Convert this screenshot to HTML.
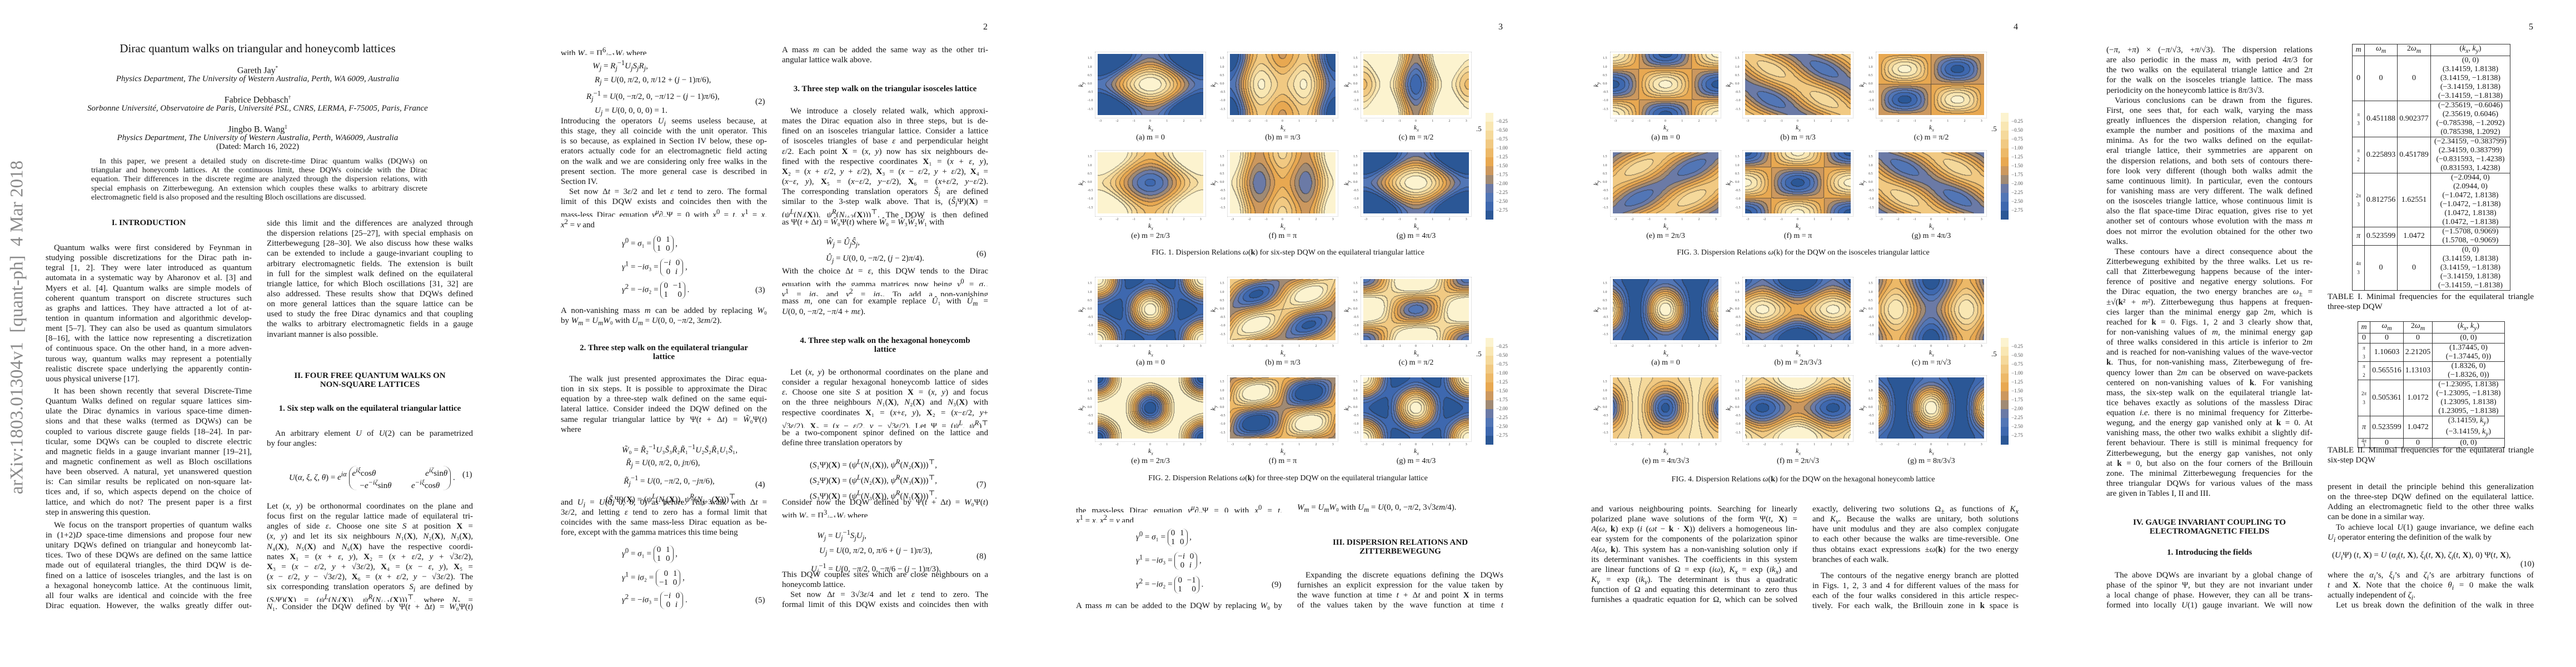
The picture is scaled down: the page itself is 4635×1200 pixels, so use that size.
<!DOCTYPE html>
<html><head><meta charset="utf-8">
<style>
body{margin:0;width:4635px;height:1200px;background:#fff;position:relative;overflow:hidden;font-family:"Liberation Serif","DejaVu Serif",serif;color:#151515}
.pg{position:absolute;top:0;width:927px;height:1200px;overflow:hidden}
.b{position:absolute;width:371px;font-size:15px;line-height:18.15px}
.b div{white-space:nowrap;text-align:justify;text-align-last:justify;height:18.15px;overflow:hidden}
.b div.e{text-align-last:left}
.b div.i{text-indent:15px}
.c{position:absolute;left:0;width:927px;text-align:center;white-space:nowrap}
.h{position:absolute;font-weight:bold;font-size:15px;white-space:nowrap;text-align:center}
.eq{position:absolute;font-size:15px;white-space:nowrap;line-height:18px}
.num{position:absolute;font-size:15px}
.pn{position:absolute;left:842px;top:40px;font-size:16px}
.mx{display:inline-flex;flex-direction:column;vertical-align:middle;line-height:16px;border-left:1.5px solid #333;border-right:1.5px solid #333;border-radius:9px;padding:0 5px;text-align:center;word-spacing:5px}
table{position:absolute;border-collapse:collapse;font-size:14px;line-height:16px}
td{border:1px solid #333;text-align:center;padding:0;vertical-align:middle}
.tick{position:absolute;font-size:6px;color:#444;white-space:nowrap}
.lab{position:absolute;font-size:12px;font-style:italic;white-space:nowrap}
.cap{position:absolute;font-size:14px;white-space:nowrap;text-align:center;width:200px}
.figcap{position:absolute;font-size:14px;white-space:nowrap;width:927px;text-align:center;left:0}
</style></head><body>

<!-- PAGE 1 -->
<div class="pg" style="left:0">
<div style="position:absolute;left:31px;top:589px;transform:translate(-50%,-50%) rotate(-90deg);font-size:33px;color:#8a8a8a;white-space:nowrap">arXiv:1803.01304v1&nbsp; [quant-ph]&nbsp; 4 Mar 2018</div>
<div class="c" style="top:75px;font-size:21px">Dirac quantum walks on triangular and honeycomb lattices</div>
<div class="c" style="top:117px;font-size:16px">Gareth Jay<sup style="font-size:9px">*</sup></div>
<div class="c" style="top:134px;font-size:15px;font-style:italic">Physics Department, The University of Western Australia, Perth, WA 6009, Australia</div>
<div class="c" style="top:170px;font-size:16px">Fabrice Debbasch<sup style="font-size:9px">†</sup></div>
<div class="c" style="top:187px;font-size:15px;font-style:italic">Sorbonne Université, Observatoire de Paris, Université PSL, CNRS, LERMA, F-75005, Paris, France</div>
<div class="c" style="top:223px;font-size:16px">Jingbo B. Wang<sup style="font-size:9px">‡</sup></div>
<div class="c" style="top:240px;font-size:15px;font-style:italic">Physics Department, The University of Western Australia, Perth, WA6009, Australia</div>
<div class="c" style="top:256px;font-size:15px">(Dated: March 16, 2022)</div>
<div class="b" style="left:164px;top:283px;width:605px;font-size:14px;line-height:16.2px">
<div class="i" style="height:16.2px">In this paper, we present a detailed study on discrete-time Dirac quantum walks (DQWs) on</div>
<div style="height:16.2px">triangular and honeycomb lattices. At the continuous limit, these DQWs coincide with the Dirac</div>
<div style="height:16.2px">equation. Their differences in the discrete regime are analyzed through the dispersion relations, with</div>
<div style="height:16.2px">special emphasis on Zitterbewegung. An extension which couples these walks to arbitrary discrete</div>
<div class="e" style="height:16.2px">electromagnetic field is also proposed and the resulting Bloch oscillations are discussed.</div>
</div>
<div class="h" style="left:82px;width:371px;top:393px">I. INTRODUCTION</div>
<div class="b" style="left:82px;top:437px">
<div class="i">Quantum walks were first considered by Feynman in</div>
<div>studying possible discretizations for the Dirac path in-</div>
<div>tegral [1, 2]. They were later introduced as quantum</div>
<div>automata in a systematic way by Aharonov et al. [3] and</div>
<div>Myers et al. [4]. Quantum walks are simple models of</div>
<div>coherent quantum transport on discrete structures such</div>
<div>as graphs and lattices. They have attracted a lot of at-</div>
<div>tention in quantum information and algorithmic develop-</div>
<div>ment [5–7]. They can also be used as quantum simulators</div>
<div>[8–16], with the lattice now representing a discretization</div>
<div>of continuous space. On the other hand, in a more adven-</div>
<div>turous way, quantum walks may represent a potentially</div>
<div>realistic discrete space underlying the apparently contin-</div>
<div class="e">uous physical universe [17].</div>
<div class="i" style="margin-top:4px">It has been shown recently that several Discrete-Time</div>
<div>Quantum Walks defined on regular square lattices sim-</div>
<div>ulate the Dirac dynamics in various space-time dimen-</div>
<div>sions and that these walks (termed as DQWs) can be</div>
<div>coupled to various discrete gauge fields [18–24]. In par-</div>
<div>ticular, some DQWs can be coupled to discrete electric</div>
<div>and magnetic fields in a gauge invariant manner [19–21],</div>
<div>and magnetic confinement as well as Bloch oscillations</div>
<div>have been observed. A natural, yet unanswered question</div>
<div>is: Can similar results be replicated on non-square lat-</div>
<div>tices and, if so, which aspects depend on the choice of</div>
<div>lattice, and which do not? The present paper is a first</div>
<div class="e">step in answering this question.</div>
<div class="i" style="margin-top:5px">We focus on the transport properties of quantum walks</div>
<div>in (1+2)<i>D</i> space-time dimensions and propose four new</div>
<div>unitary DQWs defined on triangular and honeycomb lat-</div>
<div>tices. Two of these DQWs are defined on the same lattice</div>
<div>made out of equilateral triangles, the third DQW is de-</div>
<div>fined on a lattice of isosceles triangles, and the last is on</div>
<div>a hexagonal honeycomb lattice. At the continuous limit,</div>
<div>all four walks are identical and coincide with the free</div>
<div>Dirac equation. However, the walks greatly differ out-</div>
</div>
<div class="b" style="left:480px;top:393px">
<div>side this limit and the differences are analyzed through</div>
<div>the dispersion relations [25–27], with special emphasis on</div>
<div>Zitterbewegung [28–30]. We also discuss how these walks</div>
<div>can be extended to include a gauge-invariant coupling to</div>
<div>arbitrary electromagnetic fields. The extension is built</div>
<div>in full for the simplest walk defined on the equilateral</div>
<div>triangle lattice, for which Bloch oscillations [31, 32] are</div>
<div>also addressed. These results show that DQWs defined</div>
<div>on more general lattices than the square lattice can be</div>
<div>used to study the free Dirac dynamics and that coupling</div>
<div>the walks to arbitrary electromagnetic fields in a gauge</div>
<div class="e">invariant manner is also possible.</div>
</div>
<div class="h" style="left:480px;width:371px;top:668px;line-height:16px">II. FOUR FREE QUANTUM WALKS ON<br>NON-SQUARE LATTICES</div>
<div class="h" style="left:480px;width:371px;top:727px">1. Six step walk on the equilateral triangular lattice</div>
<div class="b" style="left:480px;top:771px">
<div class="i">An arbitrary element <i>U</i> of <i>U</i>(2) can be parametrized</div>
<div class="e">by four angles:</div>
</div>
<div class="eq" style="left:520px;top:838px"><i>U</i>(<i>α, ξ, ζ, θ</i>) = <i>e<sup>iα</sup></i> <span class="mx" style="word-spacing:14px;border-radius:14px"><span><i>e<sup>iξ</sup></i>cos<i>θ</i>&nbsp;&nbsp;&nbsp;&nbsp;&nbsp;<i>e<sup>iζ</sup></i>sin<i>θ</i></span><span>−<i>e<sup>−iζ</sup></i>sin<i>θ</i>&nbsp;&nbsp;<i>e<sup>−iξ</sup></i>cos<i>θ</i></span></span> .</div>
<div class="num" style="left:832px;top:846px">(1)</div>
<div class="b" style="left:480px;top:902px">
<div>Let (<i>x, y</i>) be orthonormal coordinates on the plane and</div>
<div>focus first on the regular lattice made of equilateral tri-</div>
<div>angles of side <i>ε</i>. Choose one site <i>S</i> at position <b>X</b> =</div>
<div>(<i>x, y</i>) and let its six neighbours <i>N</i>₁(<b>X</b>), <i>N</i>₂(<b>X</b>), <i>N</i>₃(<b>X</b>),</div>
<div><i>N</i>₄(<b>X</b>), <i>N</i>₅(<b>X</b>) and <i>N</i>₆(<b>X</b>) have the respective coordi-</div>
<div>nates <b>X</b>₁ = (<i>x</i> + <i>ε, y</i>), <b>X</b>₂ = (<i>x</i> + <i>ε</i>/2<i>, y</i> + √3<i>ε</i>/2),</div>
<div><b>X</b>₃ = (<i>x</i> − <i>ε</i>/2<i>, y</i> + √3<i>ε</i>/2), <b>X</b>₄ = (<i>x</i> − <i>ε, y</i>), <b>X</b>₅ =</div>
<div>(<i>x</i> − <i>ε</i>/2<i>, y</i> − √3<i>ε</i>/2), <b>X</b>₆ = (<i>x</i> + <i>ε</i>/2<i>, y</i> − √3<i>ε</i>/2). The</div>
<div>six corresponding translation operators <i>S<sub>j</sub></i> are defined by</div>
<div>(<i>S<sub>j</sub></i>Ψ)(<b>X</b>) = (<i>ψ<sup>L</sup></i>(<i>N<sub>j</sub></i>(<b>X</b>)), <i>ψ<sup>R</sup></i>(<i>N</i><sub><i>j</i>+1</sub>(<b>X</b>)))<sup>⊤</sup>, where <i>N</i>₇ =</div>
<div><i>N</i>₁. Consider the DQW defined by Ψ(<i>t</i> + Δ<i>t</i>) = <i>W</i>₀Ψ(<i>t</i>)</div>
</div>
</div>

<!-- PAGE 2 -->
<div class="pg" style="left:927px">
<div class="pn">2</div>
<div class="b" style="left:82px;top:81px"><div class="e">with <i>W</i>₀ = Π<sup>6</sup><sub><i>j</i>=1</sub><i>W<sub>j</sub></i> where</div></div>
<div class="eq" style="left:128px;top:103px;line-height:20.5px">&nbsp;&nbsp;&nbsp;<i>W<sub>j</sub></i> = <i>R<sub>j</sub></i><sup>−1</sup><i>U<sub>j</sub>S<sub>j</sub>R<sub>j</sub></i>,<br>&nbsp;&nbsp;&nbsp;&nbsp;<i>R<sub>j</sub></i> = <i>U</i>(0, <i>π</i>/2, 0, <i>π</i>/12 + (<i>j</i> − 1)<i>π</i>/6),<br><i>R<sub>j</sub></i><sup>−1</sup> = <i>U</i>(0, −<i>π</i>/2, 0, −<i>π</i>/12 − (<i>j</i> − 1)<i>π</i>/6),<br>&nbsp;&nbsp;&nbsp;&nbsp;<i>U<sub>j</sub></i> = <i>U</i>(0, 0, 0, 0) = 1.</div>
<div class="num" style="left:432px;top:175px">(2)</div>
<div class="b" style="left:82px;top:209px">
<div>Introducing the operators <i>U<sub>j</sub></i> seems useless because, at</div>
<div>this stage, they all coincide with the unit operator. This</div>
<div>is so because, as explained in Section IV below, these op-</div>
<div>erators actually code for an electromagnetic field acting</div>
<div>on the walk and we are considering only free walks in the</div>
<div>present section. The more general case is described in</div>
<div class="e">Section IV.</div>
<div class="i">Set now Δ<i>t</i> = 3<i>ε</i>/2 and let <i>ε</i> tend to zero. The formal</div>
<div>limit of this DQW exists and coincides then with the</div>
<div>mass-less Dirac equation <i>γ<sup>μ</sup>∂<sub>μ</sub></i>Ψ = 0 with <i>x</i><sup>0</sup> = <i>t</i>, <i>x</i><sup>1</sup> = <i>x</i>,</div>
<div class="e"><i>x</i><sup>2</sup> = <i>y</i> and</div>
</div>
<div class="eq" style="left:192px;top:423px"><i>γ</i><sup>0</sup> = <i>σ</i>₁ = <span class="mx"><span>0 1</span><span>1 0</span></span> ,</div>
<div class="eq" style="left:192px;top:465px"><i>γ</i><sup>1</sup> = −<i>iσ</i>₃ = <span class="mx"><span>−<i>i</i> 0</span><span>0 <i>i</i></span></span> ,</div>
<div class="eq" style="left:192px;top:506px"><i>γ</i><sup>2</sup> = −<i>iσ</i>₂ = <span class="mx"><span>0 −1</span><span>1 &nbsp;0</span></span> .</div>
<div class="num" style="left:432px;top:514px">(3)</div>
<div class="b" style="left:82px;top:550px">
<div>A non-vanishing mass <i>m</i> can be added by replacing <i>W</i>₀</div>
<div class="e">by <i>W<sub>m</sub></i> = <i>U<sub>m</sub>W</i>₀ with <i>U<sub>m</sub></i> = <i>U</i>(0, 0, −<i>π</i>/2, 3<i>εm</i>/2).</div>
</div>
<div class="h" style="left:82px;width:371px;top:618px;line-height:16px">2. Three step walk on the equilateral triangular<br>lattice</div>
<div class="b" style="left:82px;top:673px">
<div class="i">The walk just presented approximates the Dirac equa-</div>
<div>tion in six steps. It is possible to approximate the Dirac</div>
<div>equation by a three-step walk defined on the same equi-</div>
<div>lateral lattice. Consider indeed the DQW defined on the</div>
<div>same regular triangular lattice by Ψ(<i>t</i> + Δ<i>t</i>) = <i>W̃</i>₀Ψ(<i>t</i>)</div>
<div class="e">where</div>
</div>
<div class="eq" style="left:150px;top:793px;line-height:23px;text-align:right;width:250px"><i>W̃</i>₀ = <i>R̃</i>₂<sup>−1</sup><i>U</i>₃<i>S̃</i>₃<i>R̃</i>₂<i>R̃</i>₁<sup>−1</sup><i>U</i>₂<i>S̃</i>₂<i>R̃</i>₁<i>U</i>₁<i>S̃</i>₁,<br><i>R̃<sub>j</sub></i> = <i>U</i>(0, <i>π</i>/2, 0, <i>jπ</i>/6),&nbsp;&nbsp;&nbsp;&nbsp;&nbsp;&nbsp;&nbsp;&nbsp;&nbsp;&nbsp;&nbsp;&nbsp;&nbsp;&nbsp;&nbsp;&nbsp;&nbsp;&nbsp;<br><i>R̃<sub>j</sub></i><sup>−1</sup> = <i>U</i>(0, −<i>π</i>/2, 0, −<i>jπ</i>/6),&nbsp;&nbsp;&nbsp;&nbsp;&nbsp;&nbsp;&nbsp;&nbsp;&nbsp;&nbsp;&nbsp;<br>(<i>S̃<sub>j</sub></i>Ψ)(<b>X</b>) = (<i>ψ<sup>L</sup></i>(<i>N<sub>j</sub></i>(<b>X</b>)), <i>ψ<sup>R</sup></i>(<i>N</i><sub><i>j</i>+3</sub>(<b>X</b>)))<sup>⊤</sup>,</div>
<div class="num" style="left:432px;top:864px">(4)</div>
<div class="b" style="left:82px;top:895px">
<div>and <i>U<sub>j</sub></i> = <i>U</i>(0, 0, 0, 0) as before. This walk with Δ<i>t</i> =</div>
<div>3<i>ε</i>/2, and letting <i>ε</i> tend to zero has a formal limit that</div>
<div>coincides with the same mass-less Dirac equation as be-</div>
<div class="e">fore, except with the gamma matrices this time being</div>
</div>
<div class="eq" style="left:192px;top:981px"><i>γ</i><sup>0</sup> = <i>σ</i>₁ = <span class="mx"><span>0 1</span><span>1 0</span></span> ,</div>
<div class="eq" style="left:192px;top:1024px"><i>γ</i><sup>1</sup> = <i>iσ</i>₂ = <span class="mx"><span>&nbsp;0 1</span><span>−1 0</span></span> ,</div>
<div class="eq" style="left:192px;top:1064px"><i>γ</i><sup>2</sup> = −<i>iσ</i>₃ = <span class="mx"><span>−<i>i</i> 0</span><span>0 <i>i</i></span></span> .</div>
<div class="num" style="left:432px;top:1072px">(5)</div>

<div class="b" style="left:480px;top:81px">
<div>A mass <i>m</i> can be added the same way as the other tri-</div>
<div class="e">angular lattice walk above.</div>
</div>
<div class="h" style="left:480px;width:371px;top:152px">3. Three step walk on the triangular isosceles lattice</div>
<div class="b" style="left:480px;top:191px">
<div class="i">We introduce a closely related walk, which approxi-</div>
<div>mates the Dirac equation also in three steps, but is de-</div>
<div>fined on an isosceles triangular lattice. Consider a lattice</div>
<div>of isosceles triangles of base <i>ε</i> and perpendicular height</div>
<div><i>ε</i>/2. Each point <b>X</b> = (<i>x, y</i>) now has six neighbours de-</div>
<div>fined with the respective coordinates <b>X</b>₁ = (<i>x</i> + <i>ε, y</i>),</div>
<div><b>X</b>₂ = (<i>x</i> + <i>ε</i>/2<i>, y</i> + <i>ε</i>/2), <b>X</b>₃ = (<i>x</i> − <i>ε</i>/2<i>, y</i> + <i>ε</i>/2), <b>X</b>₄ =</div>
<div>(<i>x</i>−<i>ε, y</i>), <b>X</b>₅ = (<i>x</i>−<i>ε</i>/2<i>, y</i>−<i>ε</i>/2), <b>X</b>₆ = (<i>x</i>+<i>ε</i>/2<i>, y</i>−<i>ε</i>/2).</div>
<div>The corresponding translation operators <i>Ŝ<sub>i</sub></i> are defined</div>
<div>similar to the 3-step walk above. That is, (<i>Ŝ<sub>j</sub></i>Ψ)(<b>X</b>) =</div>
<div>(<i>ψ<sup>L</sup></i>(<i>N<sub>j</sub></i>(<b>X</b>)), <i>ψ<sup>R</sup></i>(<i>N</i><sub><i>j</i>+3</sub>(<b>X</b>)))<sup>⊤</sup>. The DQW is then defined</div>
<div class="e">as Ψ(<i>t</i> + Δ<i>t</i>) = <i>Ŵ</i>₀Ψ(<i>t</i>) where <i>Ŵ</i>₀ = <i>Ŵ</i>₃<i>Ŵ</i>₂<i>Ŵ</i>₁ with</div>
</div>
<div class="eq" style="left:559px;top:424px;line-height:25px"><i>Ŵ<sub>j</sub></i> = <i>Û<sub>j</sub>Ŝ<sub>j</sub></i>,<br><i>Û<sub>j</sub></i> = <i>U</i>(0, 0, −<i>π</i>/2, (<i>j</i> − 2)<i>π</i>/4).</div>
<div class="num" style="left:830px;top:449px">(6)</div>
<div class="b" style="left:480px;top:479px">
<div>With the choice Δ<i>t</i> = <i>ε</i>, this DQW tends to the Dirac</div>
<div>equation with the gamma matrices now being <i>γ</i><sup>0</sup> = <i>σ</i>₁,</div>
<div><i>γ</i><sup>1</sup> = <i>iσ</i>₂ and <i>γ</i><sup>2</sup> = <i>iσ</i>₃. To add a non-vanishing</div>
<div>mass <i>m</i>, one can for example replace <i>Û</i>₁ with <i>Û<sub>m</sub></i> =</div>
<div class="e"><i>U</i>(0, 0, −<i>π</i>/2, −<i>π</i>/4 + <i>mε</i>).</div>
</div>
<div class="h" style="left:480px;width:371px;top:605px;line-height:16px">4. Three step walk on the hexagonal honeycomb<br>lattice</div>
<div class="b" style="left:480px;top:661px">
<div class="i">Let (<i>x, y</i>) be orthonormal coordinates on the plane and</div>
<div>consider a regular hexagonal honeycomb lattice of sides</div>
<div><i>ε</i>. Choose one site <i>S</i> at position <b>X</b> = (<i>x, y</i>) and focus</div>
<div>on the three neighbours <i>N</i>₁(<b>X</b>), <i>N</i>₂(<b>X</b>) and <i>N</i>₃(<b>X</b>) with</div>
<div>respective coordinates <b>X</b>₁ = (<i>x</i>+<i>ε, y</i>), <b>X</b>₂ = (<i>x</i>−<i>ε</i>/2<i>, y</i>+</div>
<div>√3<i>ε</i>/2), <b>X</b>₃ = (<i>x</i> − <i>ε</i>/2<i>, y</i> − √3<i>ε</i>/2). Let Ψ = (<i>ψ<sup>L</sup>, ψ<sup>R</sup></i>)<sup>⊤</sup></div>
<div>be a two-component spinor defined on the lattice and</div>
<div class="e">define three translation operators by</div>
</div>
<div class="eq" style="left:530px;top:820px;line-height:22px">(<i>S</i>₁Ψ)(<b>X</b>) = (<i>ψ<sup>L</sup></i>(<i>N</i>₁(<b>X</b>)), <i>ψ<sup>R</sup></i>(<i>N</i>₂(<b>X</b>)))<sup>⊤</sup>,<br>(<i>S</i>₂Ψ)(<b>X</b>) = (<i>ψ<sup>L</sup></i>(<i>N</i>₂(<b>X</b>)), <i>ψ<sup>R</sup></i>(<i>N</i>₃(<b>X</b>)))<sup>⊤</sup>,<br>(<i>S</i>₃Ψ)(<b>X</b>) = (<i>ψ<sup>L</sup></i>(<i>N</i>₃(<b>X</b>)), <i>ψ<sup>R</sup></i>(<i>N</i>₁(<b>X</b>)))<sup>⊤</sup>.</div>
<div class="num" style="left:830px;top:864px">(7)</div>
<div class="b" style="left:480px;top:895px">
<div>Consider now the DQW defined by Ψ(<i>t</i> + Δ<i>t</i>) = <i>W</i>₀Ψ(<i>t</i>)</div>
<div class="e">with <i>W</i>₀ = Π<sup>3</sup><sub><i>j</i>=1</sub><i>W<sub>j</sub></i> where</div>
</div>
<div class="eq" style="left:532px;top:947px;line-height:23px">&nbsp;&nbsp;&nbsp;<i>W<sub>j</sub></i> = <i>U<sub>j</sub></i><sup>−1</sup><i>S<sub>j</sub>U<sub>j</sub></i>,<br>&nbsp;&nbsp;&nbsp;&nbsp;<i>U<sub>j</sub></i> = <i>U</i>(0, <i>π</i>/2, 0, <i>π</i>/6 + (<i>j</i> − 1)<i>π</i>/3),<br><i>U<sub>j</sub></i><sup>−1</sup> = <i>U</i>(0, −<i>π</i>/2, 0, −<i>π</i>/6 − (<i>j</i> − 1)<i>π</i>/3).</div>
<div class="num" style="left:830px;top:993px">(8)</div>
<div class="b" style="left:480px;top:1025px">
<div>This DQW couples sites which are close neighbours on a</div>
<div class="e">honeycomb lattice.</div>
<div class="i">Set now Δ<i>t</i> = 3√3<i>ε</i>/4 and let <i>ε</i> tend to zero. The</div>
<div>formal limit of this DQW exists and coincides then with</div>
</div>
</div>

<!-- PAGE 3 -->
<div class="pg" style="left:1854px">
<div class="pn">3</div>
<div class="figcap" style="top:447px">FIG. 1. Dispersion Relations <i>ω</i>(<b>k</b>) for six-step DQW on the equilateral triangular lattice</div>
<div class="figcap" style="top:853px">FIG. 2. Dispersion Relations <i>ω</i>(<b>k</b>) for three-step DQW on the equilateral triangular lattice</div>
<div class="b" style="left:82px;top:904px">
<div>the mass-less Dirac equation <i>γ<sup>μ</sup>∂<sub>μ</sub></i>Ψ = 0 with <i>x</i><sup>0</sup> = <i>t</i>,</div>
<div class="e"><i>x</i><sup>1</sup> = <i>x</i>, <i>x</i><sup>2</sup> = <i>y</i> and</div>
</div>
<div class="eq" style="left:190px;top:951px"><i>γ</i><sup>0</sup> = <i>σ</i>₁ = <span class="mx"><span>0 1</span><span>1 0</span></span> ,</div>
<div class="eq" style="left:190px;top:993px"><i>γ</i><sup>1</sup> = −<i>iσ</i>₃ = <span class="mx"><span>−<i>i</i> 0</span><span>0 <i>i</i></span></span> ,</div>
<div class="eq" style="left:190px;top:1036px"><i>γ</i><sup>2</sup> = −<i>iσ</i>₂ = <span class="mx"><span>0 −1</span><span>1 &nbsp;0</span></span> .</div>
<div class="num" style="left:434px;top:1044px">(9)</div>
<div class="b" style="left:82px;top:1081px"><div>A mass <i>m</i> can be added to the DQW by replacing <i>W</i>₀ by</div></div>
<div class="b" style="left:480px;top:904px"><div class="e"><i>W<sub>m</sub></i> = <i>U<sub>m</sub>W</i>₀ with <i>U<sub>m</sub></i> = <i>U</i>(0, 0, −<i>π</i>/2, 3√3<i>εm</i>/4).</div></div>
<div class="h" style="left:480px;width:371px;top:968px;line-height:16px">III. DISPERSION RELATIONS AND<br>ZITTERBEWEGUNG</div>
<div class="b" style="left:480px;top:1026px">
<div class="i">Expanding the discrete equations defining the DQWs</div>
<div>furnishes an explicit expression for the value taken by</div>
<div>the wave function at time <i>t</i> + Δ<i>t</i> and point <b>X</b> in terms</div>
<div>of the values taken by the wave function at time <i>t</i></div>
</div>
</div>

<!-- PAGE 4 -->
<div class="pg" style="left:2781px">
<div class="pn">4</div>
<div class="figcap" style="top:447px">FIG. 3. Dispersion Relations <i>ω</i>(k) for the DQW on the isosceles triangular lattice</div>
<div class="figcap" style="top:855px">FIG. 4. Dispersion Relations <i>ω</i>(<b>k</b>) for the DQW on the hexagonal honeycomb lattice</div>
<div class="b" style="left:82px;top:907px">
<div>and various neighbouring points. Searching for linearly</div>
<div>polarized plane wave solutions of the form Ψ(<i>t</i>, <b>X</b>) =</div>
<div><i>A</i>(<i>ω</i>, <b>k</b>) exp (<i>i</i> (<i>ωt</i> − <b>k</b> · <b>X</b>)) delivers a homogeneous lin-</div>
<div>ear system for the components of the polarization spinor</div>
<div><i>A</i>(<i>ω</i>, <b>k</b>). This system has a non-vanishing solution only if</div>
<div>its determinant vanishes. The coefficients in this system</div>
<div>are linear functions of Ω = exp (<i>iω</i>), <i>K<sub>x</sub></i> = exp (<i>ik<sub>x</sub></i>) and</div>
<div><i>K<sub>y</sub></i> = exp (<i>ik<sub>y</sub></i>). The determinant is thus a quadratic</div>
<div>function of Ω and equating this determinant to zero thus</div>
<div>furnishes a quadratic equation for Ω, which can be solved</div>
</div>
<div class="b" style="left:480px;top:907px">
<div>exactly, delivering two solutions Ω<sub>±</sub> as functions of <i>K<sub>x</sub></i></div>
<div>and <i>K<sub>y</sub></i>. Because the walks are unitary, both solutions</div>
<div>have unit modulus and they are also complex conjugate</div>
<div>to each other because the walks are time-reversible. One</div>
<div>thus obtains exact expressions ±<i>ω</i>(<b>k</b>) for the two energy</div>
<div class="e">branches of each walk.</div>
<div class="i" style="margin-top:11px">The contours of the negative energy branch are plotted</div>
<div>in Figs. 1, 2, 3 and 4 for different values of the mass for</div>
<div>each of the four walks considered in this article respec-</div>
<div>tively. For each walk, the Brillouin zone in <b>k</b> space is</div>
</div>
</div>

<!-- PAGE 5 -->
<div class="pg" style="left:3708px">
<div class="pn">5</div>
<div class="b" style="left:82px;top:81px">
<div>(−<i>π</i>, +<i>π</i>) × (−<i>π</i>/√3, +<i>π</i>/√3). The dispersion relations</div>
<div>are also periodic in the mass <i>m</i>, with period 4<i>π</i>/3 for</div>
<div>the two walks on the equilateral triangle lattice and 2<i>π</i></div>
<div>for the walk on the isosceles triangle lattice. The mass</div>
<div class="e">periodicity on the honeycomb lattice is 8<i>π</i>/3√3.</div>
<div class="i">Various conclusions can be drawn from the figures.</div>
<div>First, one sees that, for each walk, varying the mass</div>
<div>greatly influences the dispersion relation, changing for</div>
<div>example the number and positions of the maxima and</div>
<div>minima. As for the two walks defined on the equilat-</div>
<div>eral triangle lattice, their symmetries are apparent on</div>
<div>the dispersion relations, and both sets of contours there-</div>
<div>fore look very different (though both walks admit the</div>
<div>same continuous limit). In particular, even the contours</div>
<div>for vanishing mass are very different. The walk defined</div>
<div>on the isosceles triangle lattice, whose continuous limit is</div>
<div>also the flat space-time Dirac equation, gives rise to yet</div>
<div>another set of contours whose evolution with the mass <i>m</i></div>
<div>does not mirror the evolution obtained for the other two</div>
<div class="e">walks.</div>
<div class="i">These contours have a direct consequence about the</div>
<div>Zitterbewegung exhibited by the three walks. Let us re-</div>
<div>call that Zitterbewegung happens because of the inter-</div>
<div>ference of positive and negative energy solutions. For</div>
<div>the Dirac equation, the two energy branches are <i>ω</i><sub>±</sub> =</div>
<div>±√(<b>k</b>² + <i>m</i>²). Zitterbewegung thus happens at frequen-</div>
<div>cies larger than the minimal energy gap 2<i>m</i>, which is</div>
<div>reached for <b>k</b> = 0. Figs. 1, 2 and 3 clearly show that,</div>
<div>for non-vanishing values of <i>m</i>, the minimal energy gap</div>
<div>of three walks considered in this article is inferior to 2<i>m</i></div>
<div>and is reached for non-vanishing values of the wave-vector</div>
<div><b>k</b>. Thus, for non-vanishing mass, Ziterbewegung of fre-</div>
<div>quency lower than 2<i>m</i> can be observed on wave-packets</div>
<div>centered on non-vanishing values of <b>k</b>. For vanishing</div>
<div>mass, the six-step walk on the equilateral triangle lat-</div>
<div>tice behaves exactly as solutions of the massless Dirac</div>
<div>equation <i>i.e.</i> there is no minimal frequency for Zitterbe-</div>
<div>wegung, and the energy gap vanished only at <b>k</b> = 0. At</div>
<div>vanishing mass, the other two walks exhibit a slightly dif-</div>
<div>ferent behaviour. There is still is minimal frequency for</div>
<div>Zitterbewegung, but the energy gap vanishes, not only</div>
<div>at <b>k</b> = 0, but also on the four corners of the Brillouin</div>
<div>zone. The minimal Zitterbewegung frequencies for the</div>
<div>three triangular DQWs for various values of the mass</div>
<div class="e">are given in Tables I, II and III.</div>
</div>
<div class="h" style="left:82px;width:371px;top:932px;line-height:16px">IV. GAUGE INVARIANT COUPLING TO<br>ELECTROMAGNETIC FIELDS</div>
<div class="h" style="left:82px;width:371px;top:986px">1. Introducing the fields</div>
<div class="b" style="left:82px;top:1026px">
<div class="i">The above DQWs are invariant by a global change of</div>
<div>phase of the spinor Ψ, but they are not invariant under</div>
<div>a local change of phase. However, they can all be trans-</div>
<div>formed into locally <i>U</i>(1) gauge invariant. We will now</div>
</div>

<table style="left:524px;top:79px">
<tr style="height:17px"><td style="width:21px"><i>m</i></td><td style="width:58px"><i>ω<sub>m</sub></i></td><td style="width:59px">2<i>ω<sub>m</sub></i></td><td style="width:142px">(<i>k<sub>x</sub>, k<sub>y</sub></i>)</td></tr>
<tr style="height:80px"><td>0</td><td>0</td><td>0</td><td>(0, 0)<br>(3.14159, 1.8138)<br>(3.14159, −1.8138)<br>(−3.14159, 1.8138)<br>(−3.14159, −1.8138)</td></tr>
<tr style="height:64px"><td style="font-size:9px"><i>π</i><br>3</td><td>0.451188</td><td>0.902377</td><td>(−2.35619, −0.6046)<br>(2.35619, 0.6046)<br>(−0.785398, −1.2092)<br>(0.785398, 1.2092)</td></tr>
<tr style="height:64px"><td style="font-size:9px"><i>π</i><br>2</td><td>0.225893</td><td>0.451789</td><td>(−2.34159, −0.383799)<br>(2.34159, 0.383799)<br>(−0.831593, −1.4238)<br>(0.831593, 1.4238)</td></tr>
<tr style="height:96px"><td style="font-size:9px">2<i>π</i><br>3</td><td>0.812756</td><td>1.62551</td><td>(−2.0944, 0)<br>(2.0944, 0)<br>(−1.0472, 1.8138)<br>(−1.0472, −1.8138)<br>(1.0472, 1.8138)<br>(1.0472, −1.8138)</td></tr>
<tr style="height:32px"><td><i>π</i></td><td>0.523599</td><td>1.0472</td><td>(−1.5708, 0.9069)<br>(1.5708, −0.9069)</td></tr>
<tr style="height:79px"><td style="font-size:9px">4<i>π</i><br>3</td><td>0</td><td>0</td><td>(0, 0)<br>(3.14159, 1.8138)<br>(3.14159, −1.8138)<br>(−3.14159, 1.8138)<br>(−3.14159, −1.8138)</td></tr>
</table>
<div class="b" style="left:480px;top:525px">
<div>TABLE I. Minimal frequencies for the equilateral triangle</div>
<div class="e">three-step DQW</div>
</div>
<table style="left:534px;top:578px">
<tr style="height:15px"><td style="width:21px"><i>m</i></td><td style="width:59px"><i>ω<sub>m</sub></i></td><td style="width:51px">2<i>ω<sub>m</sub></i></td><td style="width:129px">(<i>k<sub>x</sub>, k<sub>y</sub></i>)</td></tr>
<tr style="height:18px"><td>0</td><td>0</td><td>0</td><td>(0, 0)</td></tr>
<tr style="height:31px"><td style="font-size:9px"><i>π</i><br>3</td><td>1.10603</td><td>2.21205</td><td>(1.37445, 0)<br>(−1.37445, 0))</td></tr>
<tr style="height:33px"><td style="font-size:9px"><i>π</i><br>2</td><td>0.565516</td><td>1.13103</td><td>(1.8326, 0)<br>(−1.8326, 0))</td></tr>
<tr style="height:64px"><td style="font-size:9px">2<i>π</i><br>3</td><td>0.505361</td><td>1.0172</td><td>(−1.23095, 1.8138)<br>(−1.23095, −1.8138)<br>(1.23095, 1.8138)<br>(1.23095, −1.8138)</td></tr>
<tr style="height:32px"><td><i>π</i></td><td>0.523599</td><td>1.0472</td><td>(3.14159, <i>k<sub>y</sub></i>)<br>(−3.14159, <i>k<sub>y</sub></i>)</td></tr>
<tr style="height:17px"><td style="font-size:9px;line-height:8px">4<i>π</i><br>3</td><td>0</td><td>0</td><td>(0, 0)</td></tr>
</table>
<div class="b" style="left:480px;top:801px">
<div>TABLE II. Minimal frequencies for the equilateral triangle</div>
<div class="e">six-step DQW</div>
</div>
<div class="b" style="left:480px;top:867px">
<div>present in detail the principle behind this generalization</div>
<div>on the three-step DQW defined on the equilateral lattice.</div>
<div>Adding an electromagnetic field to the other three walks</div>
<div class="e">can be done in a similar way.</div>
<div class="i">To achieve local <i>U</i>(1) gauge invariance, we define each</div>
<div class="e"><i>U<sub>i</sub></i> operator entering the definition of the walk by</div>
</div>
<div class="eq" style="left:488px;top:990px">(<i>U<sub>i</sub></i>Ψ) (<i>t</i>, <b>X</b>) = <i>U</i> (<i>α<sub>i</sub></i>(<i>t</i>, <b>X</b>), <i>ξ<sub>i</sub></i>(<i>t</i>, <b>X</b>), <i>ζ<sub>i</sub></i>(<i>t</i>, <b>X</b>), 0) Ψ(<i>t</i>, <b>X</b>),</div>
<div class="num" style="left:827px;top:1007px">(10)</div>
<div class="b" style="left:480px;top:1026px">
<div>where the <i>α<sub>i</sub></i>’s, <i>ξ<sub>i</sub></i>’s and <i>ζ<sub>i</sub></i>’s are arbitrary functions of</div>
<div><i>t</i> and <b>X</b>. Note that the choice <i>θ<sub>i</sub></i> = 0 make the walk</div>
<div class="e">actually independent of <i>ζ<sub>i</sub></i>.</div>
<div class="i">Let us break down the definition of the walk in three</div>
</div>
</div>

<script>
// ---- chart data ----
const xTicks = [-3, -2, -1, 0, 1, 2, 3];
const yTicks = [1.5, 1.0, 0.5, 0.0, -0.5, -1.0, -1.5];
const colorbarLabels = ['−0.25','−0.50','−0.75','−1.00','−1.25','−1.50','−1.75','−2.00','−2.25','−2.50','−2.75'];
const levelColors = ['#2b5796','#3e68af','#5276b6','#6b7aa6','#a08a74','#cc985e','#e8a851','#edb968','#f1c982','#f5d99b','#f9e7b3','#fcf3cf'];
const panelLetters = ['a','b','c','e','f','g'];
const fig1Captions = ['(a) m = 0','(b) m = π/3','(c) m = π/2','(e) m = 2π/3','(f) m = π','(g) m = 4π/3'];
const fig2Captions = ['(a) m = 0','(b) m = π/3','(c) m = π/2','(e) m = 2π/3','(f) m = π','(g) m = 4π/3'];
const fig3Captions = ['(a) m = 0','(b) m = π/3','(c) m = π/2','(e) m = 2π/3','(f) m = π','(g) m = 4π/3'];
const fig4Captions = ['(a) m = 0','(b) m = 2π/3√3','(c) m = π/√3','(e) m = 4π/3√3','(f) m = 2π/√3','(g) m = 8π/3√3'];
// per-panel field coefficients (normalized level of -ω)
const fig1Coef = [[0.25,0.4,0,0.35],[0.55,0.275,-0.22,0.12],[0.80,-0.275,-0.279,-0.15],[0.75,-0.35,0,-0.25],[0.62,-0.175,0.229,-0.1],[0.25,0.4,0,0.35]];
const fig2Coef = [[0.33,0.22,0,0],[0.55,0,0.35,-0.15],[0.75,0,-0.3,-0.25],[0.75,-0.25,0,0],[0.5,0,-0.35,0.25],[0.33,0.22,0,0]];
const fig3Coef = [[0.5,0.45,0],[0.5,0.2,-0.3],[0.5,0,-0.45],[0.5,-0.2,-0.3],[0.5,-0.45,0],[0.5,-0.2,0.3]];
const fig4Coef = [[0.3,0.3,0.2,0.2,1.75],[0.4,-0.2,0.35,0,1.5],[0.45,-0.3,0.15,0,1.5],[0.61,-0.24,-0.16,-0.16,1.75],[0.6,0.2,-0.35,0,1.5],[0.3,0.3,0.2,0.2,1.75]];

const KY = 1.81, KS = Math.PI / KY, R3 = Math.sqrt(3);
function model1(c, kx, ky){ const w = ky*KS; return c[0]+c[1]*Math.cos(kx)+c[2]*Math.cos(2*kx)+c[3]*Math.cos(w); }
function model2(c, kx, ky){ const p1 = kx-R3*ky, p2 = kx+R3*ky; const T = Math.cos(2*kx)+Math.cos(p1)+Math.cos(p2); return c[0]+c[1]*T+c[2]*Math.cos(p1)+c[3]*Math.cos(p2); }
function model3(c, kx, ky){ const w = ky*KS; return c[0]+c[1]*Math.cos(kx)*Math.cos(w)+c[2]*Math.sin(kx)*Math.sin(w); }
function model4(c, kx, ky){ const w = ky*KS, cu = Math.cos(c[4]*kx), cw = Math.cos(w); return c[0]+c[1]*cu+c[2]*cw+c[3]*cu*cw; }

const PW = 190, PH = 110;
const colX = [121, 359, 599];
function xScale(kx){ return (kx + Math.PI) / (2*Math.PI) * PW; }
function yScale(ky){ return (KY - ky) / (2*KY) * PH; }
function hex(h){ return [parseInt(h.slice(1,3),16),parseInt(h.slice(3,5),16),parseInt(h.slice(5,7),16)]; }
const rgbLevels = levelColors.map(hex);

function drawPanel(page, left, top, model, coef, caption){
  const frame = document.createElement('div');
  
  
  frame.style.cssText = 'position:absolute;left:'+(left-5)+'px;top:'+(top-4)+'px;width:'+(PW+8)+'px;height:'+(PH+8)+'px;border:1px dotted #c8c8c8';
  page.appendChild(frame);
  const cv = document.createElement('canvas');
  
  
  cv.width = PW; cv.height = PH;
  cv.style.cssText = 'position:absolute;left:'+left+'px;top:'+top+'px;width:'+PW+'px;height:'+PH+'px';
  page.appendChild(cv);
  const ctx = cv.getContext('2d');
  const img = ctx.createImageData(PW, PH);
  const lv = new Int16Array(PW*PH);
  for (let py=0; py<PH; py++) for (let px=0; px<PW; px++){
    const kx = (px+0.5)/PW*2*Math.PI - Math.PI;
    const ky = KY - (py+0.5)/PH*2*KY;
    let v = model(coef, kx, ky);
    let l = Math.floor(v*12); if (l<0) l=0; if (l>11) l=11;
    lv[py*PW+px] = l;
  }
  for (let py=0; py<PH; py++) for (let px=0; px<PW; px++){
    const i = py*PW+px, l = lv[i];
    let c = rgbLevels[l];
    const edge = (px<PW-1 && lv[i+1]!==l) || (py<PH-1 && lv[i+PW]!==l);
    if (edge) c = [c[0]*0.35+25, c[1]*0.35+25, c[2]*0.35+25];
    img.data[i*4]=c[0]; img.data[i*4+1]=c[1]; img.data[i*4+2]=c[2]; img.data[i*4+3]=255;
  }
  ctx.putImageData(img, 0, 0);
  yTicks.forEach(t => {
    const el = document.createElement('div');
    
    
    el.className = 'tick';
    el.textContent = t.toFixed(1);
    el.style.left = (left-18)+'px'; el.style.top = (top + yScale(t) - 4)+'px';
    page.appendChild(el);
  });
  xTicks.forEach(t => {
    const el = document.createElement('div');
    
    
    el.className = 'tick';
    el.textContent = t;
    el.style.left = (left + xScale(t) - 2)+'px'; el.style.top = (top + PH + 8)+'px';
    page.appendChild(el);
  });
  const ky = document.createElement('div');
  
  
  ky.className = 'lab';
  ky.innerHTML = 'k<sub style="font-size:8px">y</sub>';
  ky.style.left = (left-34)+'px'; ky.style.top = (top+PH/2-8)+'px'; ky.style.transform = 'rotate(-90deg)';
  page.appendChild(ky);
  const kx = document.createElement('div');
  
  
  kx.className = 'lab';
  kx.innerHTML = 'k<sub style="font-size:8px">x</sub>';
  kx.style.left = (left+PW/2-4)+'px'; kx.style.top = (top+PH+15)+'px';
  page.appendChild(kx);
  const cap = document.createElement('div');
  
  
  cap.className = 'cap';
  cap.textContent = caption;
  cap.style.left = (left+PW/2-100)+'px'; cap.style.top = (top+PH+33)+'px';
  page.appendChild(cap);
}

function drawColorbar(page, top){
  const n = levelColors.length, bh = 16;
  for (let i=0; i<n; i++){
    const band = document.createElement('div');
    
    
    band.style.cssText = 'position:absolute;left:819px;width:14px;height:'+bh+'px;top:'+(top+i*bh)+'px;background:'+levelColors[n-1-i];
    page.appendChild(band);
  }
  colorbarLabels.forEach((t, i) => {
    const el = document.createElement('div');
    
    
    el.style.cssText = 'position:absolute;left:838px;font-size:9px;color:#555;top:'+(top+(i+1)*bh-6)+'px';
    el.textContent = t;
    page.appendChild(el);
  });
  const dot = document.createElement('div');
  
  
  dot.style.cssText = 'position:absolute;left:802px;font-size:13px;top:'+(top+21)+'px';
  dot.textContent = '.5';
  page.appendChild(dot);
}

function drawFigure(page, top, model, coefs, captions, cbTop){
  for (let i=0; i<6; i++){
    drawPanel(page, colX[i%3], top + Math.floor(i/3)*177, model, coefs[i], captions[i]);
  }
  drawColorbar(page, cbTop);
}

const pages = document.querySelectorAll('.pg');
drawFigure(pages[2], 97, model1, fig1Coef, fig1Captions, 203);
drawFigure(pages[2], 502, model2, fig2Coef, fig2Captions, 608);
drawFigure(pages[3], 97, model3, fig3Coef, fig3Captions, 203);
drawFigure(pages[3], 502, model4, fig4Coef, fig4Captions, 608);
</script>
</body></html>
